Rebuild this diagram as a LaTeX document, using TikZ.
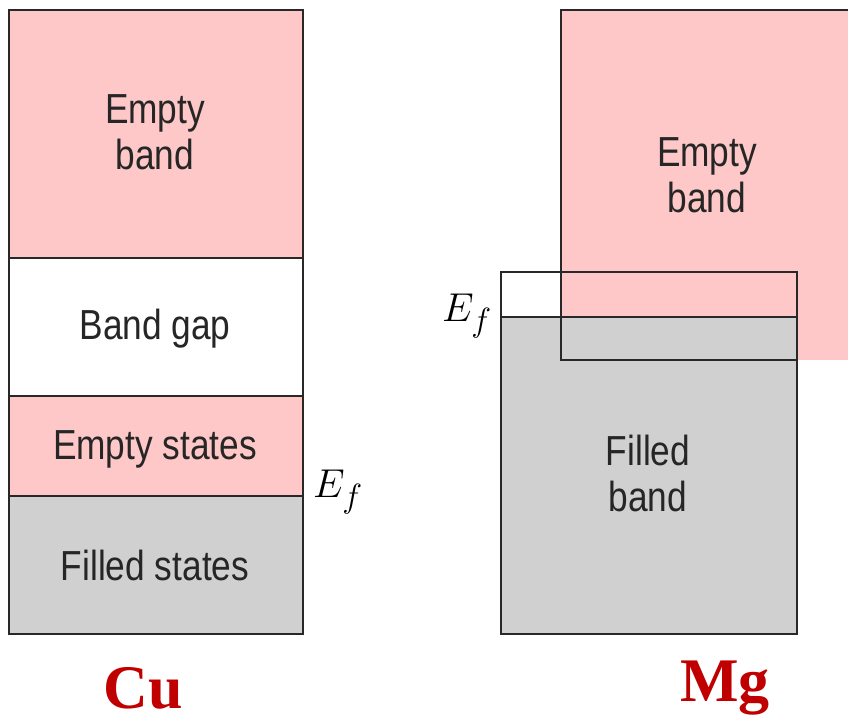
\documentclass[tikz,border=0pt]{standalone}
\usepackage{fontspec}
\setsansfont[FakeStretch=0.84]{Liberation Sans}
\newfontfamily\elfont{Liberation Serif}
\usepackage{tikz}
\usepackage{xcolor}
\definecolor{bandpink}{RGB}{255,200,200}
\definecolor{bandgray}{RGB}{208,208,208}
\definecolor{bandline}{RGB}{40,40,40}
\definecolor{elred}{RGB}{192,0,0}
\newcommand{\fermilevel}{\scalebox{1.62}{$E_f$}}

\begin{document}
\begin{tikzpicture}[x=1pt,y=-1pt,line width=2pt,
  txt/.style={font=\sffamily\fontsize{42}{46}\selectfont,text=black!85,align=center},
  fermi/.style={font=\fontsize{24.88}{30}\selectfont},
  metal/.style={font=\elfont\bfseries\fontsize{62}{70}\selectfont,text=elred}]
\useasboundingbox (0,0) rectangle (848,721);
% Cu
\fill[bandpink] (9,10) rectangle (303,258);
\fill[bandpink] (9,396) rectangle (303,496);
\fill[bandgray] (9,496) rectangle (303,634);
\draw[bandline] (9,10) rectangle (303,634);
\draw[bandline] (9,258) -- (303,258) (9,396) -- (303,396) (9,496) -- (303,496);
\node[txt] (cuempty) at (155,132) {Empty\\band};
\node[txt] (cugap) at (155,329) {Band gap};
\node[txt] (custates) at (155,449) {Empty states};
\node[txt] (cufilled) at (155,565) {Filled states};
\node[fermi] (cuef) at (338,492) {\fermilevel};
\node[metal] (cu) at (143,688) {Cu};
% Mg
\fill[bandpink] (561,10) rectangle (848,360);
\fill[bandgray] (501,317) rectangle (797,634);
\draw[bandline] (501,272) rectangle (797,634);
\draw[bandline] (501,317) -- (797,317);
\draw[bandline] (848,10) -- (561,10) -- (561,360) -- (797,360);
\node[txt] (mgempty) at (707,175) {Empty\\band};
\node[txt] (mgfilled) at (648,473) {Filled\\band};
\node[fermi] (mgef) at (467,316) {\fermilevel};
\node[metal] (mg) at (725,688) {Mg};
\end{tikzpicture}
\end{document}
